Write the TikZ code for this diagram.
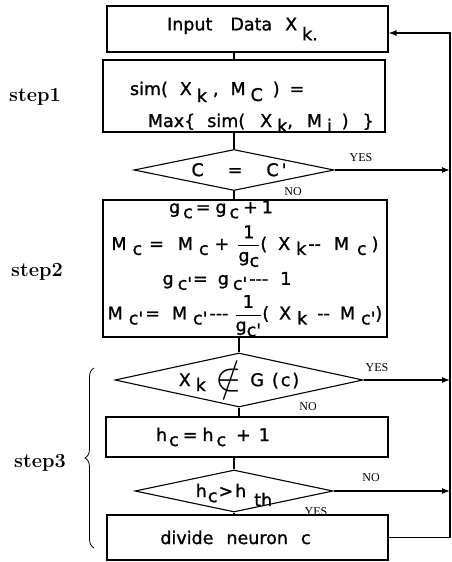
\documentclass[tikz,border=0pt]{standalone}
\usepackage{fontspec}
\usepackage{amsmath}
\usetikzlibrary{shapes.geometric, arrows.meta, positioning, decorations.pathreplacing}
\newfontfamily\boxfont[FakeBold=1.2]{DejaVu Sans}
\newfontfamily\tagfont{Liberation Serif}
% lowered index letters, as the scan prints them
\newcommand\lo[2][-5pt]{\raisebox{#1}{#2}}
\newcommand\gp[1]{\hspace*{#1pt}}
\newcommand\frc[2]{\ensuremath{\dfrac{\text{#1}}{\text{#2}}}}
% text that must not widen a diamond
\newcommand\nobox[1]{\makebox[0pt]{\smash{\raisebox{-0.35em}{#1}}}}

\begin{document}
\begin{tikzpicture}[x=1pt, y=-1pt,
  flowbox/.style={draw, line width=1.1pt, inner sep=0pt, font=\boxfont\fontsize{17.5}{21}\selectfont},
  testbox/.style={diamond, draw, line width=1.1pt, inner sep=0pt, font=\boxfont\fontsize{17.5}{21}\selectfont},
  yesno/.style={inner sep=0pt, font=\tagfont\fontsize{12}{14}\selectfont},
  steplabel/.style={inner sep=0pt, font=\bfseries\fontsize{20}{24}\selectfont},
  link/.style={line width=1.1pt},
  golink/.style={line width=1.1pt, -{Latex[length=8pt, width=6pt]}}]
  \useasboundingbox (0,0) rectangle (451,562);

  % main column
  \node[flowbox, minimum width=281pt, minimum height=46pt] (input) at (247.5,29) {Input\gp{18}Data\gp{13}X\gp{5}\lo[-10pt]{k.}\gp{10}};
  \node[flowbox, minimum width=282pt, minimum height=72pt, text width=228pt, align=left] (step1) at (244,96)
    {\rule{0pt}{35pt}sim(\gp{12}X\gp{5}\lo[-7pt]{k}\gp{6},\gp{12}M\gp{5}\lo[-6pt]{C}\gp{10})\gp{10}=\\[11pt]
     \gp{18}Max\{\gp{12}sim(\gp{15}X\gp{5}\lo{k},\gp{14}M\gp{5}\lo{i}\gp{10})\gp{14}\}};
  \node[testbox, minimum width=200pt, minimum height=41pt] (d1) at (234,170) {\nobox{\gp{10}C\gp{24}=\gp{24}C\gp{3}'}};
  \node[flowbox, minimum width=284pt, minimum height=137pt, align=center] (step2) at (245,268.5)
    {\makebox[0pt]{g\gp{3}\lo{c}\gp{3}=\gp{5}g\gp{3}\lo{c}\gp{4}+\gp{4}1\gp{48}}\\[6pt]
    M\gp{6}\lo{c}\gp{7}=\gp{14}M\gp{6}\lo{c}\gp{6}+\gp{8}\frc{1}{g\lo{c}}(\gp{11}X\gp{6}\lo{k}\gp{2}--\gp{13}M\gp{8}\lo{c}\gp{5})\\[4pt]
    \makebox[0pt]{g\gp{4}\lo{c'}\gp{1}=\gp{10}g\gp{4}\lo{c'}\gp{2}--{}-\gp{12}1\gp{36}}\\[4pt]
    M\gp{6}\lo{c'}\gp{2}=\gp{12}M\gp{6}\lo{c'}\gp{2}--{}-\gp{6}\frc{1}{g\lo{c'}}(\gp{10}X\gp{6}\lo{k}\gp{10}--\gp{10}M\gp{6}\lo{c'})};
  \node[testbox, minimum width=248pt, minimum height=54pt] (d2) at (239,380)
    {\nobox{X\gp{5}\lo{k}\gp{10}\raisebox{-4pt}{\scalebox{2.3}{$\notin$}}\gp{8}G\gp{8}(\gp{2}c\gp{2})}};
  \node[flowbox, minimum width=282pt, minimum height=40pt] (hbox) at (247,437) {h\gp{2}\lo{c}\gp{4}=\gp{5}h\gp{3}\lo{c}\gp{10}+\gp{8}1\gp{68}};
  \node[testbox, minimum width=198pt, minimum height=42pt] (d3) at (234,491) {\nobox{h\gp{1}\lo{c}\gp{1}>\gp{2}h\gp{8}\lo[-9pt]{th}}};
  \node[flowbox, minimum width=281pt, minimum height=45pt] (divide) at (247.5,537.5) {divide\gp{13}neuron\gp{13}c\gp{24}};

  % side labels
  \node[steplabel] (s1) at (35,97) {step1};
  \node[steplabel] (s2) at (37,272) {step2};
  \node[steplabel] (s3) at (40,463) {step3};
  \draw[line width=0.8pt, decorate, decoration={brace, amplitude=9pt}] (94,548) -- (94,368);

  % YES / NO
  \node[yesno] (yes1) at (361,158) {YES};
  \node[yesno] (no1) at (293,192) {NO};
  \node[yesno] (yes2) at (377,368) {YES};
  \node[yesno] (no2) at (308,407) {NO};
  \node[yesno] (no3) at (371,478) {NO};
  \node[yesno] (yes3) at (316,512) {YES};

  % return rail
  \coordinate (railtop) at (450,33);
  \coordinate (railbot) at (450,537.5);

  \draw[link] (input.south -| d1.north) -- (step1.north -| d1.north);
  \draw[link] (step1.south -| d1.north) -- (d1.north);
  \draw[link] (d1.south) -- (step2.north -| d1.south);
  \draw[link] (step2.south -| d2.north) -- (d2.north);
  \draw[link] (d2.south) -- (hbox.north -| d2.south);
  \draw[link] (hbox.south -| d3.north) -- (d3.north);
  \draw[link] (d3.south) -- (divide.north -| d3.south);

  \draw[golink] (d1.east) -- (d1.east -| railtop);
  \draw[golink] (d2.east) -- (d2.east -| railtop);
  \draw[golink] (d3.east) -- (d3.east -| railtop);
  \draw[golink] (divide.east) -- (railbot) -- (railtop) -- (railtop -| input.east);
\end{tikzpicture}
\end{document}
